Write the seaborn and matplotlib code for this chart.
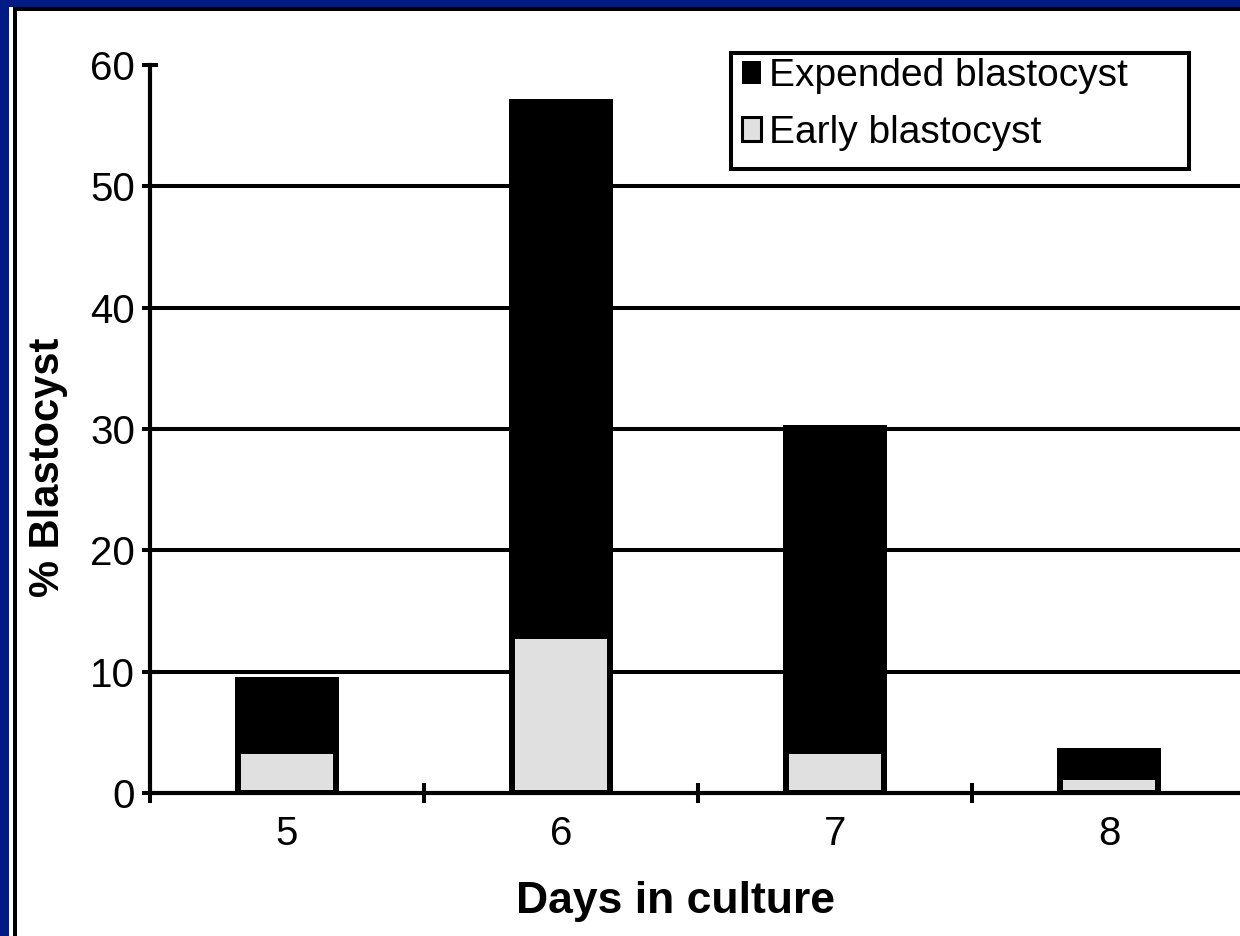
import matplotlib
matplotlib.use("Agg")
import matplotlib.pyplot as plt
from matplotlib.patches import Patch, Rectangle
import pandas as pd
import seaborn as sns

# Percentage of embryos reaching each blastocyst stage by day of culture
days = ["5", "6", "7", "8"]
early = [3.5, 12.9, 3.5, 1.3]
expanded = [6.1, 44.3, 26.8, 2.4]
y_ticks = [0, 10, 20, 30, 40, 50, 60]
series_names = ["Expended blastocyst", "Early blastocyst"]

df = pd.DataFrame({"day": days, "early": early, "expanded": expanded})
df["total"] = df["early"] + df["expanded"]

sns.set_theme(style="white")
plt.rcParams["font.family"] = ["Liberation Sans", "DejaVu Sans"]

W, H = 1240, 936
fig = plt.figure(figsize=(W / 100, H / 100), dpi=100)
fig.patch.set_facecolor("white")


def px_rect(x0, y0, x1, y1, **kw):
    """Rectangle given in pixel coordinates measured from the top-left corner."""
    return Rectangle((x0 / W, 1 - y1 / H), (x1 - x0) / W, (y1 - y0) / H,
                     transform=fig.transFigure, **kw)


# Slide frame: navy band on the left/top with an inner black rule
navy = "#001c84"
fig.patches.append(px_rect(0, 0, 9, H, facecolor=navy, edgecolor="none", zorder=0))
fig.patches.append(px_rect(0, 0, W, 7, facecolor=navy, edgecolor="none", zorder=0))
fig.patches.append(px_rect(13, 7, 17, H, facecolor="black", edgecolor="none", zorder=0))
fig.patches.append(px_rect(13, 7, W, 11, facecolor="black", edgecolor="none", zorder=0))

ax_left, ax_right = 150 / W, 1246 / W
ax_bottom, ax_top = 1 - 793 / H, 1 - 65 / H
ax = fig.add_axes([ax_left, ax_bottom, ax_right - ax_left, ax_top - ax_bottom])
ax.set_facecolor("none")

gray = "#e0e0e0"
# Stacked bars: full height in black, early-stage portion in gray on top
sns.barplot(data=df, x="day", y="total", order=days, color="black",
            saturation=1, width=0.38, linewidth=0, edgecolor="black", ax=ax, zorder=3)
sns.barplot(data=df, x="day", y="early", order=days, color=gray,
            saturation=1, width=0.36, linewidth=4.3, edgecolor="black", ax=ax, zorder=4)

ax.set_xlim(-0.5, len(days) - 0.5)
ax.set_ylim(0, 60)
ax.set_yticks(y_ticks)
ax.set_yticklabels([str(t) for t in y_ticks])

# Horizontal gridlines at interior ticks
for v in y_ticks[1:-1]:
    ax.axhline(v, color="black", lw=2.9, zorder=1)

for s in ["top", "right"]:
    ax.spines[s].set_visible(False)
for s in ["left", "bottom"]:
    ax.spines[s].set_color("black")
    ax.spines[s].set_linewidth(3.0)
    ax.spines[s].set_zorder(5)

ax.tick_params(axis="y", which="major", direction="inout", length=12, width=2.9,
               color="black", pad=4.8, labelsize=29, labelcolor="black", left=True)
ax.set_xticks(range(len(days)))
ax.set_xticklabels(days)
ax.set_xticks([i - 0.5 for i in range(len(days) + 1)], minor=True)
ax.tick_params(axis="x", which="major", length=0, pad=16, labelsize=29, labelcolor="black")
ax.tick_params(axis="x", which="minor", direction="inout", length=15, width=2.9,
               color="black", bottom=True)

ax.set_xlabel("Days in culture", fontsize=32, fontweight="bold", color="black",
              va="baseline", ha="center")
ax.xaxis.set_label_coords((675 - 150) / 1096, (793 - 913) / 728)
ax.set_ylabel("% Blastocyst", fontsize=30, fontweight="bold", color="black",
              va="center", ha="center")
ax.yaxis.set_label_coords((48 - 150) / 1096, (793 - 467) / 728)

# Legend box drawn as its own rectangle, entries placed inside it
fig.patches.append(px_rect(731, 53, 1189, 169, facecolor="white", edgecolor="black",
                           linewidth=2.9, zorder=8))
handles = [Patch(facecolor="black", edgecolor="black", linewidth=0),
           Patch(facecolor=gray, edgecolor="black", linewidth=2.2)]
leg = fig.legend(handles, series_names, loc="upper left",
                 bbox_to_anchor=(742 / W, 1 - 58 / H), bbox_transform=fig.transFigure,
                 borderaxespad=0, fontsize=28, frameon=False,
                 handlelength=0.5, handleheight=0.55, handletextpad=0.2,
                 borderpad=0, labelspacing=0.53)
for t in leg.get_texts():
    t.set_color("black")
leg.set_zorder(10)

fig.savefig("out.png", dpi=100, facecolor=fig.get_facecolor())
